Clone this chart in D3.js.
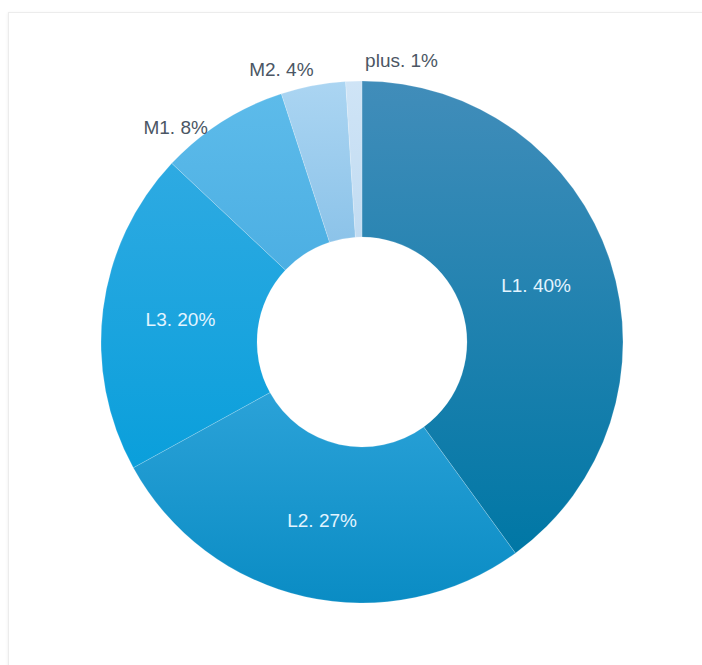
<!DOCTYPE html>
<html>
<head>
<meta charset="utf-8">
<script src="https://cdn.jsdelivr.net/npm/d3@7"></script>
<style>
  html, body { margin: 0; padding: 0; background: #fff; }
  svg { display: block; }
</style>
</head>
<body>
<svg id="chart" width="702" height="665"></svg>
<script>
// ---- data ----
const categories = ["L1", "L2", "L3", "M1", "M2", "plus"];
const values = [40, 27, 20, 8, 4, 1];
const topColors = ["#418dba", "#2ba2d8", "#2eaae2", "#5dbbea", "#abd5f2", "#cfe4f6"];
const bottomColors = ["#0077a5", "#0a8cc4", "#0a9fdb", "#4cafe3", "#8cc3e9", "#c2dcf2"];
const insideLabels = [true, true, true, false, false, false];

const svg = d3.select("#chart");
const cx = 362, cy = 342, R = 261, r0 = 105;

// frame
const defs = svg.append("defs");
const f = defs.append("filter").attr("id", "sh").attr("x", "-5%").attr("y", "-5%").attr("width", "110%").attr("height", "110%");
f.append("feDropShadow").attr("dx", 0).attr("dy", 1).attr("stdDeviation", 1.5).attr("flood-color", "#000").attr("flood-opacity", 0.08);
svg.append("rect").attr("x", 8.5).attr("y", 12.5).attr("width", 760).attr("height", 720)
  .attr("fill", "#fff").attr("stroke", "#ececec").attr("filter", "url(#sh)");

// gradients
categories.forEach((c, i) => {
  const g = defs.append("linearGradient").attr("id", "g" + i)
    .attr("x1", 0).attr("y1", 0).attr("x2", 0).attr("y2", 1);
  g.append("stop").attr("offset", "0%").attr("stop-color", topColors[i]);
  g.append("stop").attr("offset", "100%").attr("stop-color", bottomColors[i]);
});

const data = categories.map((c, i) => ({ name: c, value: values[i], i }));
const pie = d3.pie().value(d => d.value).sort(null);
const arcs = pie(data);
const arc = d3.arc().innerRadius(r0).outerRadius(R);

const g = svg.append("g").attr("transform", `translate(${cx},${cy})`);
g.selectAll("path.slice").data(arcs).enter().append("path")
  .attr("class", "slice")
  .attr("d", arc)
  .attr("fill", d => `url(#g${d.data.i})`)
  .attr("stroke", "rgba(255,255,255,0.18)")
  .attr("stroke-width", 1);

// inside labels
const midArc = d3.arc().innerRadius((r0 + R) / 2).outerRadius((r0 + R) / 2);
g.selectAll("text.in").data(arcs.filter(d => insideLabels[d.data.i])).enter().append("text")
  .attr("class", "in")
  .attr("transform", d => `translate(${midArc.centroid(d)})`)
  .attr("text-anchor", "middle")
  .attr("dy", "0.35em")
  .attr("font-family", "'Liberation Sans', Arial, sans-serif")
  .attr("font-size", 19)
  .attr("fill", "#e3f4ff")
  .text(d => `${d.data.name}. ${d.data.value}%`);

// outside labels: spread evenly around their mean angle
const outs = arcs.filter(d => !insideLabels[d.data.i]);
const mids = outs.map(d => (d.startAngle + d.endAngle) / 2);
const mean = d3.mean(mids) - 1.5 * Math.PI / 180;
const sep = 24.5 * Math.PI / 180;
const lr = 284;
g.selectAll("text.out").data(outs).enter().append("text")
  .attr("class", "out")
  .attr("transform", (d, k) => {
    const a = mean + (k - (outs.length - 1) / 2) * sep;
    return `translate(${lr * Math.sin(a)},${-lr * Math.cos(a)})`;
  })
  .attr("text-anchor", "middle")
  .attr("dy", "0.35em")
  .attr("font-family", "'Liberation Sans', Arial, sans-serif")
  .attr("font-size", 19)
  .attr("fill", "#4b5664")
  .text(d => `${d.data.name}. ${d.data.value}%`);
</script>
</body>
</html>
